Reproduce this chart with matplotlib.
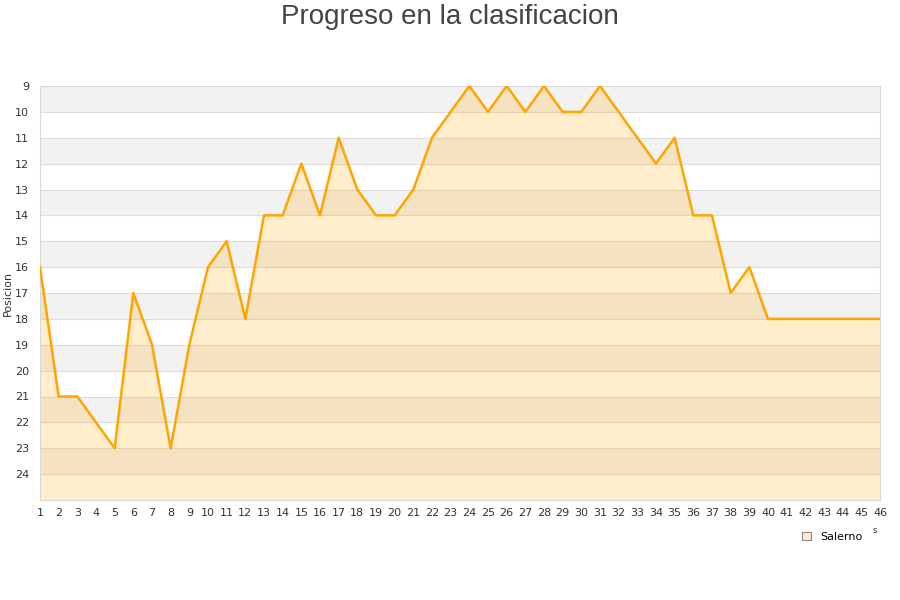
import matplotlib.pyplot as plt
from matplotlib.patches import Patch

jornadas = list(range(1, 47))
posicion = [16, 21, 21, 22, 23, 17, 19, 23, 19, 16,
            15, 18, 14, 14, 12, 14, 11, 13, 14, 14,
            13, 11, 10, 9, 10, 9, 10, 9, 10, 10,
            9, 10, 11, 12, 11, 14, 14, 17, 16, 18,
            18, 18, 18, 18, 18, 18]
equipo = "Salerno"
y_ticks = list(range(9, 25))

fig = plt.figure(figsize=(9, 6), dpi=100)
ax = fig.add_axes([40 / 900, 1 - 500 / 600, 840 / 900, 414 / 600])

# alternating bands
for y in range(9, 25):
    if (y - 9) % 2 == 0:
        ax.axhspan(y, y + 1, color='#f2f2f2', zorder=0, lw=0)
for y in range(10, 25):
    ax.axhline(y, color='#dddddd', lw=0.8, zorder=1)

ax.fill_between(jornadas, posicion, 25, color='#ffa500', alpha=0.2, lw=0, zorder=2)
ax.plot(jornadas, posicion, color='#ffa500', lw=1.8, zorder=3)

ax.set_xlim(1, 46)
ax.set_ylim(25, 9)
ax.set_yticks(y_ticks)
ax.set_xticks(jornadas)
ax.tick_params(length=0, labelsize=8, colors='#333333', pad=6)
ax.tick_params(axis='y', pad=8)
for s in ax.spines.values():
    s.set_color('#d8d8d8')
ax.set_ylabel('Posicion', fontsize=8, color='#333333', labelpad=1)

fig.text(0.5, 0.993, 'Progreso en la clasificacion', ha='center', va='top',
         fontsize=20, color='#444444', family='Liberation Sans')
fig.text(0.972, 0.112, 's', fontsize=6, color='#333333', ha='center')

ax.legend(handles=[Patch(facecolor='#ffeecc', edgecolor='#888888', lw=0.8, label=equipo)],
          loc='center', bbox_to_anchor=(0.925, 0.105), bbox_transform=fig.transFigure,
          frameon=False, fontsize=8, handlelength=0.8, handleheight=0.8, handletextpad=0.8)

fig.savefig('out.png', dpi=100)
